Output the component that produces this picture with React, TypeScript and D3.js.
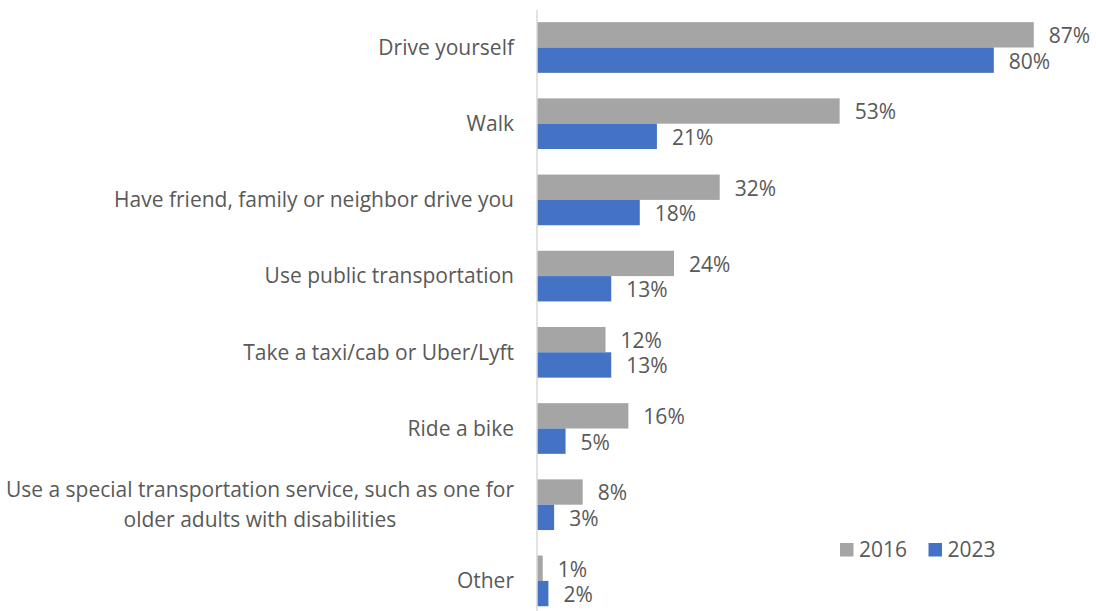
import React from "react";
import * as d3 from "d3";

const categories = [
  "Drive yourself",
  "Walk",
  "Have friend, family or neighbor drive you",
  "Use public transportation",
  "Take a taxi/cab or Uber/Lyft",
  "Ride a bike",
  "Use a special transportation service, such as one for\nolder adults with disabilities",
  "Other",
];
const seriesNames = ["2016", "2023"];
const values2016 = [87, 53, 32, 24, 12, 16, 8, 1];
const values2023 = [80, 21, 18, 13, 13, 5, 3, 2];
const colors = ["#A5A5A5", "#4472C4"];

const W = 1096;
const H = 611;
const FONT = "'Open Sans', sans-serif";
const TEXT = "#595959";
const FS = 21;

export default function App() {
  const x = d3.scaleLinear().domain([0, 100]).range([537, 1108]);
  const y = d3
    .scaleBand<string>()
    .domain(categories)
    .range([9.4, 619])
    .paddingInner(0.335)
    .paddingOuter(0.1675);
  const sub = d3
    .scaleBand<string>()
    .domain(seriesNames)
    .range([0, y.bandwidth()]);
  const series = [values2016, values2023];

  return (
    <svg
      width={W}
      height={H}
      style={{ position: "absolute", left: 0, top: 0, background: "#fff" }}
      fontFamily={FONT}
    >
      {categories.map((c, i) => {
        const lines = c.split("\n");
        const cy = (y(c) as number) + y.bandwidth() / 2;
        const lh = 29.5;
        const startY = cy - ((lines.length - 1) * lh) / 2;
        return (
          <g key={c}>
            {series.map((vals, s) => {
              const by = (y(c) as number) + (sub(seriesNames[s]) as number);
              return (
                <g key={s}>
                  <rect
                    x={x(0)}
                    y={by}
                    width={x(vals[i]) - x(0)}
                    height={sub.bandwidth()}
                    fill={colors[s]}
                  />
                  <text
                    x={x(vals[i]) + 15}
                    y={by + sub.bandwidth() / 2 + 1}
                    dy="0.35em"
                    fontSize={FS}
                    fill={TEXT}
                  >
                    {vals[i]}%
                  </text>
                </g>
              );
            })}
            {lines.length === 1 ? (
              <text
                x={514}
                y={cy}
                dy="0.35em"
                textAnchor="end"
                fontSize={FS}
                fill={TEXT}
              >
                {c}
              </text>
            ) : (
              <LabelBlock lines={lines} right={514} startY={startY} lh={lh} />
            )}
          </g>
        );
      })}
      <line x1={537} x2={537} y1={10} y2={619} stroke="#D9D9D9" strokeWidth={1.5} />
      {seriesNames.map((n, s) => {
        const lx = [840, 928.5][s];
        return (
          <g key={n}>
            <rect x={lx} y={543} width={13.5} height={13.5} fill={colors[s]} />
            <text x={lx + 19} y={550} dy="0.35em" fontSize={FS} fill={TEXT}>
              {n}
            </text>
          </g>
        );
      })}
    </svg>
  );
}

function LabelBlock({
  lines,
  right,
  startY,
  lh,
}: {
  lines: string[];
  right: number;
  startY: number;
  lh: number;
}) {
  const ref = React.useRef<SVGGElement>(null);
  React.useLayoutEffect(() => {
    const g = ref.current;
    if (!g) return;
    const texts = Array.from(g.querySelectorAll("text")) as SVGTextElement[];
    const widths = texts.map((t) => t.getComputedTextLength());
    const maxW = Math.max(...widths);
    texts.forEach((t) => t.setAttribute("x", String(right - maxW / 2)));
  }, [lines, right]);
  return (
    <g ref={ref}>
      {lines.map((l, k) => (
        <text
          key={k}
          x={right}
          y={startY + k * lh}
          dy="0.35em"
          textAnchor="middle"
          fontSize={FS}
          fill={TEXT}
        >
          {l}
        </text>
      ))}
    </g>
  );
}
